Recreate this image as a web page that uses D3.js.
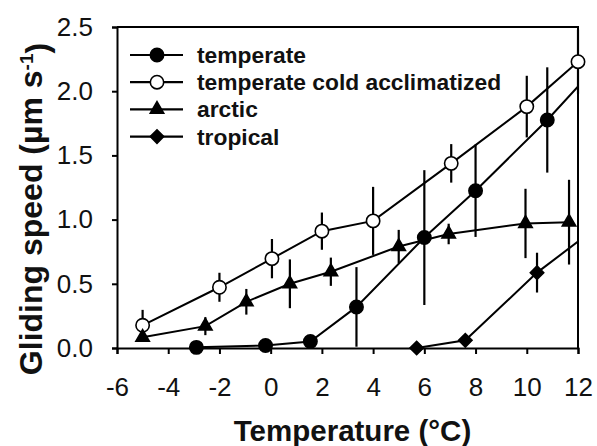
<!DOCTYPE html>
<html>
<head>
<meta charset="utf-8">
<script src="https://cdn.jsdelivr.net/npm/d3@7"></script>
<style>
  body { margin: 0; background: #fff; }
  svg { display: block; font-family: "Liberation Sans", Arial, sans-serif; }
</style>
</head>
<body>
<div id="chart"></div>
<script>
// Data (temperature in °C, speed in µm/s)
// last point of temperate / tropical lies past 12 °C, only the line shows
const temperateX   = [-2.9, -0.2, 1.55, 3.35, 6.0, 8.0, 10.8, 12.8];
const temperateY   = [0.005, 0.02, 0.05, 0.32, 0.86, 1.225, 1.776, 2.21];
const temperateErr = [0, 0, 0, 0.31, 0.525, 0.36, 0.41, 0];

const coldX   = [-5.0, -2.0, 0.05, 2.0, 4.0, 7.05, 10.0, 12.0];
const coldY   = [0.177, 0.473, 0.696, 0.91, 0.99, 1.438, 1.88, 2.23];
const coldErr = [0.12, 0.113, 0.153, 0.145, 0.265, 0.15, 0.24, 0.25];

const arcticX   = [-5.0, -2.55, -0.95, 0.75, 2.35, 5.0, 6.95, 9.95, 11.65];
const arcticY   = [0.083, 0.17, 0.36, 0.50, 0.594, 0.79, 0.888, 0.97, 0.98];
const arcticErr = [0, 0.07, 0.1, 0.19, 0.11, 0.13, 0.08, 0.27, 0.33];

const tropicalX   = [5.7, 7.6, 10.4, 12.8];
const tropicalY   = [0.0, 0.06, 0.587, 0.95];
const tropicalErr = [0, 0.02, 0.155, 0];

const seriesNames = ["temperate", "temperate cold acclimatized", "arctic", "tropical"];
const xTicks = [-6, -4, -2, 0, 2, 4, 6, 8, 10, 12];
const yTicks = [0, 0.5, 1.0, 1.5, 2.0, 2.5];

// Margins of the graph
const margin = {
    top: 27,
    right: 19,
    bottom: 98,
    left: 117
};

const width = 597 - margin.left - margin.right;
const height = 446 - margin.top - margin.bottom;

let svg = d3.select("#chart")
            .append("svg")
            .attr("width", width + margin.left + margin.right)
            .attr("height", height + margin.top + margin.bottom)
            .append("g")
            .attr("transform", `translate(${margin.left}, ${margin.top})`);

let x = d3.scaleLinear([-6, 12], [0, width]);
let y = d3.scaleLinear([0, 2.5], [height, 0]);

function makeSeries(xs, ys, errs) {
    return xs.map((v, i) => ({x: v, y: ys[i], e: errs[i]}));
}

const series = [
    {name: seriesNames[0], data: makeSeries(temperateX, temperateY, temperateErr), shape: "circle", fill: "#000"},
    {name: seriesNames[1], data: makeSeries(coldX, coldY, coldErr), shape: "circle", fill: "#fff"},
    {name: seriesNames[2], data: makeSeries(arcticX, arcticY, arcticErr), shape: "triangle", fill: "#000"},
    {name: seriesNames[3], data: makeSeries(tropicalX, tropicalY, tropicalErr), shape: "diamond", fill: "#000"}
];

// marker drawing
function symbolPath(shape) {
    if (shape === "circle") return d3.symbol(d3.symbolCircle, 140)();
    if (shape === "triangle") return d3.symbol(d3.symbolTriangle, 78)();
    return d3.symbol(d3.symbolSquare, 90)();
}
function addMarker(g, shape, fill, cx, cy) {
    g.append("path")
        .attr("d", symbolPath(shape))
        .attr("transform", `translate(${cx},${cy})` + (shape === "diamond" ? " rotate(45)" : ""))
        .attr("fill", fill)
        .attr("stroke", "#000")
        .attr("stroke-width", 1.6);
}

svg.append("clipPath").attr("id", "plot-clip")
    .append("rect").attr("width", width).attr("height", height);

// axes (plain hyphen for negatives, like the original)
let xAxis = svg.append("g")
    .attr("transform", `translate(0, ${height})`)
    .call(d3.axisBottom(x).tickValues(xTicks).tickFormat(d => String(d)).tickSizeOuter(0).tickSize(6).tickPadding(24));
let yAxis = svg.append("g")
    .call(d3.axisLeft(y).tickValues(yTicks).tickFormat(d => d.toFixed(1)).tickSizeOuter(0).tickSize(5).tickPadding(19));

[xAxis, yAxis].forEach(a => {
    a.select(".domain").attr("stroke-width", 2);
    a.selectAll(".tick line").attr("stroke-width", 2);
    a.selectAll(".tick text").style("font-size", "26px").attr("fill", "#111");
});
xAxis.selectAll(".tick text").attr("dy", "0.71em");

// top and right frame lines
svg.append("path")
    .attr("d", `M0,0H${width}V${height}`)
    .attr("fill", "none")
    .attr("stroke", "#000")
    .attr("stroke-width", 2);

// lines
let line = d3.line().x(d => x(d.x)).y(d => y(d.y));
let lines = svg.append("g").attr("clip-path", "url(#plot-clip)");
series.forEach(s => {
    lines.append("path")
        .datum(s.data)
        .attr("d", line)
        .attr("fill", "none")
        .attr("stroke", "#000")
        .attr("stroke-width", 2);
});

// error bars
series.forEach(s => {
    svg.append("g")
        .selectAll("line")
        .data(s.data.filter(d => d.e > 0 && d.x <= 12))
        .join("line")
        .attr("x1", d => x(d.x))
        .attr("x2", d => x(d.x))
        .attr("y1", d => y(Math.min(2.5, d.y + d.e)))
        .attr("y2", d => y(Math.max(0, d.y - d.e)))
        .attr("stroke", "#000")
        .attr("stroke-width", 2.2);
});

// markers
series.forEach(s => {
    let g = svg.append("g");
    s.data.filter(d => d.x <= 12).forEach(d => addMarker(g, s.shape, s.fill, x(d.x), y(d.y)));
});

// legend
let legend = svg.append("g").attr("transform", "translate(13, 28)");
series.forEach((s, i) => {
    let row = legend.append("g").attr("transform", `translate(0, ${i * 27.2})`);
    row.append("line")
        .attr("x1", 0).attr("x2", 53)
        .attr("stroke", "#000").attr("stroke-width", 2.2);
    addMarker(row, s.shape, s.fill, 27, 0);
    row.append("text")
        .attr("x", 67)
        .attr("y", 8)
        .style("font-size", "22.8px")
        .style("font-weight", "bold")
        .attr("fill", "#111")
        .text(s.name);
});

// axis titles
svg.append("text")
    .attr("x", width / 2 + 5)
    .attr("y", height + 93)
    .attr("text-anchor", "middle")
    .style("font-size", "29.5px")
    .style("font-weight", "bold")
    .attr("fill", "#111")
    .text("Temperature (°C)");

let yTitle = svg.append("text")
    .attr("transform", `translate(${42 - margin.left}, ${209 - margin.top}) rotate(-90)`)
    .attr("text-anchor", "middle")
    .style("font-size", "32px")
    .style("font-weight", "bold")
    .attr("fill", "#111");
yTitle.append("tspan").text("Gliding speed (µm s");
yTitle.append("tspan").attr("dy", "-0.45em").style("font-size", "19px").text("-1");
yTitle.append("tspan").attr("dy", "0.45em").text(")");
</script>
</body>
</html>
